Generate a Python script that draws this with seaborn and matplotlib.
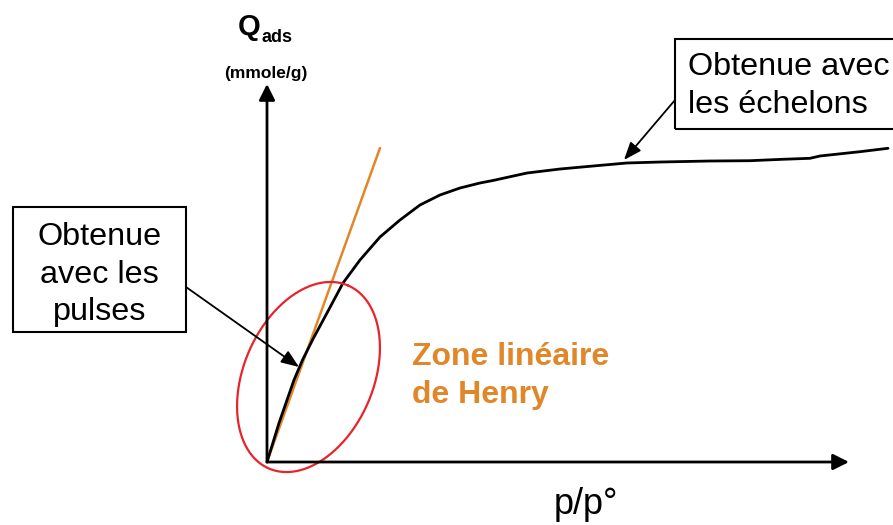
import numpy as np
import pandas as pd
import matplotlib
matplotlib.use("Agg")
import matplotlib.pyplot as plt
import seaborn as sns

# ---- data (schematic isotherm, p/p° vs Q_ads) ----
pp0 = [0.0, 0.0208, 0.0467, 0.0614, 0.0796, 0.1038, 0.1315, 0.1609, 0.1955,
       0.2301, 0.2647, 0.2993, 0.3339, 0.3685, 0.3910, 0.4498, 0.5069, 0.5640,
       0.6228, 0.6799, 0.7664, 0.8356, 0.8927, 0.9394, 0.9567, 1.0260, 1.0744]
q_ads = [0.0, 0.1043, 0.2193, 0.2727, 0.3289, 0.3984, 0.4786, 0.5401, 0.6016,
         0.6471, 0.6872, 0.7139, 0.7326, 0.7460, 0.7527, 0.7727, 0.7834, 0.7914,
         0.7995, 0.8021, 0.8048, 0.8056, 0.8094, 0.8120, 0.8182, 0.8297, 0.8388]
henry_x = [0.0, 0.1955]
henry_y = [0.0, 0.8396]

sns.set_theme(style="white")
plt.rcParams['font.family'] = ['Liberation Sans', 'DejaVu Sans']
plt.rcParams['text.color'] = 'black'

W, H = 893, 525
fig = plt.figure(figsize=(W / 100, H / 100), dpi=100)
ax = fig.add_axes([0, 0, 1, 1])
# origin at pixel (267,462); 578 px per x unit, 374 px per y unit
X0, Y0, SX, SY = 267, 462, 578, 374
ax.set_xlim(-X0 / SX, (W - X0) / SX)
ax.set_ylim(-(H - Y0) / SY, Y0 / SY)
ax.axis("off")

def fx(px):
    return (px - X0) / SX

def fy(py):
    return (Y0 - py) / SY

def fig_pt(px, py):
    return (px / W, 1 - py / H)

ORANGE = "#E0872A"
RED = "#E8242B"

# axes arrows
for tip in [(fx(849), 0), (0, fy(84))]:
    ax.annotate("", xy=tip, xytext=(0, 0),
                arrowprops=dict(arrowstyle="-|>,head_length=0.8,head_width=0.4",
                                color="black", lw=2, shrinkA=0, shrinkB=0))

# Henry line
sns.lineplot(x=henry_x, y=henry_y, ax=ax, color=ORANGE, lw=1.8, sort=False)
# isotherm
df = pd.DataFrame({"pp0": pp0, "q": q_ads})
sns.lineplot(data=df, x="pp0", y="q", ax=ax, color="black", lw=2.0, sort=False)

# red ellipse (annotation)
cx, cy, a, b, th = 308.5, 377, 99.7, 64.8, np.deg2rad(23.4)
t = np.linspace(0, 2 * np.pi, 300)
ex = cx + a * np.cos(t) * np.sin(th) + b * np.sin(t) * np.cos(th)
ey = cy - a * np.cos(t) * np.cos(th) + b * np.sin(t) * np.sin(th)
ax.plot(fx(ex), fy(ey), color=RED, lw=1.6)

# labels
fig.text(*fig_pt(238, 35), "Q", fontsize=21, fontweight="bold", ha="left", va="baseline")
fig.text(*fig_pt(261, 41.5), "ads", fontsize=13, fontweight="bold", ha="left", va="baseline")
fig.text(*fig_pt(266, 78), "(mmole/g)", fontsize=12.5, fontweight="bold", ha="center", va="baseline")
fig.text(*fig_pt(586, 514), "p/p°", fontsize=26, ha="center", va="baseline")
for txt, yb in [("Zone linéaire", 365), ("de Henry", 402.5)]:
    fig.text(*fig_pt(412, yb), txt, fontsize=23, fontweight="bold",
             color=ORANGE, ha="left", va="baseline")

# left box
fig.patches.append(plt.Rectangle(fig_pt(13, 332), 173 / W, 125 / H, transform=fig.transFigure,
                                 fill=False, ec="black", lw=1.5))
for txt, yb in [("Obtenue", 245), ("avec les", 283), ("pulses", 320)]:
    fig.text(*fig_pt(99.5, yb), txt, fontsize=23.3, ha="center", va="baseline")
# right box
fig.patches.append(plt.Rectangle(fig_pt(675, 129), 230 / W, 90 / H, transform=fig.transFigure,
                                 fill=False, ec="black", lw=1.5))
for txt, yb in [("Obtenue avec", 75), ("les échelons", 113)]:
    fig.text(*fig_pt(688, yb), txt, fontsize=23.3, ha="left", va="baseline")

# callout arrows
ax.annotate("", xy=(fx(299), fy(367)), xytext=(fx(186), fy(287)),
            arrowprops=dict(arrowstyle="-|>,head_length=0.9,head_width=0.35",
                            color="black", lw=1.3, shrinkA=0, shrinkB=0))
ax.annotate("", xy=(fx(624), fy(160)), xytext=(fx(675), fy(100)),
            arrowprops=dict(arrowstyle="-|>,head_length=0.9,head_width=0.35",
                            color="black", lw=1.3, shrinkA=0, shrinkB=0))

fig.savefig("out.png", dpi=100)
